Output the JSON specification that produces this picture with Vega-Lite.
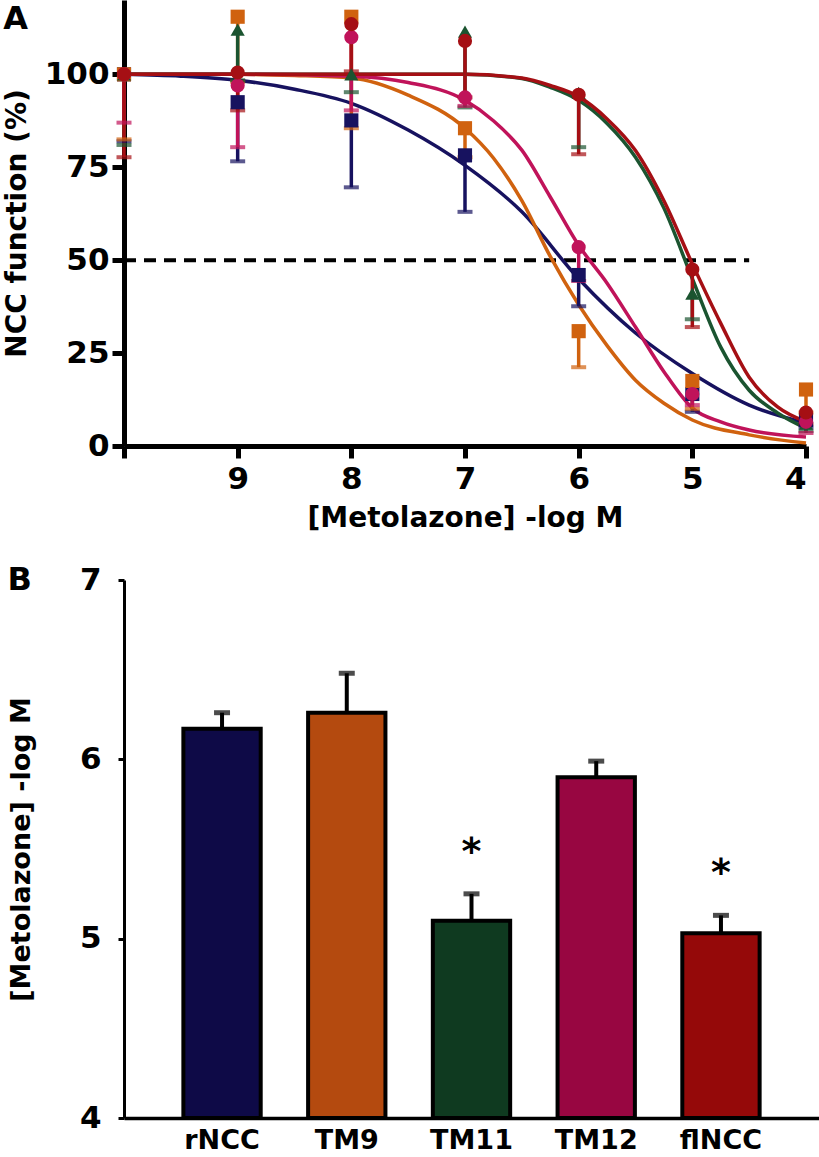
{
  "$schema": "https://vega.github.io/schema/vega-lite/v6.json",
  "padding": {"left": 3, "top": 0, "right": 0, "bottom": 0},
  "background": "white",
  "spacing": 32,
  "resolve": {"scale": {"color": "independent", "shape": "independent"}},
  "config": {
    "font": "DejaVu Sans",
    "view": {"stroke": null},
    "axis": {"labelFont": "DejaVu Sans", "titleFont": "DejaVu Sans", "labelFontWeight": "bold", "titleFontWeight": "bold", "labelColor": "black", "titleColor": "black", "domainColor": "black", "tickColor": "black", "grid": false},
    "title": {"font": "DejaVu Sans", "fontWeight": "bold", "fontSize": 32, "color": "black"}
  },
  "datasets": {
    "curves": [
      {"s": "rNCC", "x": 10, "y": 100}, {"s": "rNCC", "x": 9.5, "y": 99.5}, {"s": "rNCC", "x": 9, "y": 98.4}, {"s": "rNCC", "x": 8.5, "y": 96}, {"s": "rNCC", "x": 8, "y": 92.2}, {"s": "rNCC", "x": 7.5, "y": 85}, {"s": "rNCC", "x": 7, "y": 75.5}, {"s": "rNCC", "x": 6.5, "y": 63}, {"s": "rNCC", "x": 6, "y": 45}, {"s": "rNCC", "x": 5.5, "y": 30.4}, {"s": "rNCC", "x": 5, "y": 19.5}, {"s": "rNCC", "x": 4.5, "y": 11}, {"s": "rNCC", "x": 4, "y": 6.2},
      {"s": "TM9", "x": 10, "y": 100}, {"s": "TM9", "x": 9, "y": 100}, {"s": "TM9", "x": 8.5, "y": 99.7}, {"s": "TM9", "x": 8, "y": 99}, {"s": "TM9", "x": 7.5, "y": 94.4}, {"s": "TM9", "x": 7, "y": 85.5}, {"s": "TM9", "x": 6.75, "y": 77.5}, {"s": "TM9", "x": 6.5, "y": 66}, {"s": "TM9", "x": 6.25, "y": 51}, {"s": "TM9", "x": 6, "y": 38}, {"s": "TM9", "x": 5.75, "y": 27}, {"s": "TM9", "x": 5.5, "y": 17.7}, {"s": "TM9", "x": 5.25, "y": 11.5}, {"s": "TM9", "x": 5, "y": 7}, {"s": "TM9", "x": 4.5, "y": 3}, {"s": "TM9", "x": 4, "y": 0.8},
      {"s": "TM12", "x": 10, "y": 100}, {"s": "TM12", "x": 9, "y": 100}, {"s": "TM12", "x": 8, "y": 99.5}, {"s": "TM12", "x": 7.5, "y": 97.8}, {"s": "TM12", "x": 7, "y": 93}, {"s": "TM12", "x": 6.75, "y": 87.5}, {"s": "TM12", "x": 6.5, "y": 79.6}, {"s": "TM12", "x": 6.25, "y": 67}, {"s": "TM12", "x": 6, "y": 54}, {"s": "TM12", "x": 5.75, "y": 43.8}, {"s": "TM12", "x": 5.5, "y": 32}, {"s": "TM12", "x": 5.25, "y": 20}, {"s": "TM12", "x": 5, "y": 10.2}, {"s": "TM12", "x": 4.75, "y": 6.5}, {"s": "TM12", "x": 4.5, "y": 4.3}, {"s": "TM12", "x": 4, "y": 2.4},
      {"s": "TM11", "x": 10, "y": 100}, {"s": "TM11", "x": 7, "y": 100}, {"s": "TM11", "x": 6.5, "y": 98.9}, {"s": "TM11", "x": 6.25, "y": 96.5}, {"s": "TM11", "x": 6, "y": 93}, {"s": "TM11", "x": 5.75, "y": 86.8}, {"s": "TM11", "x": 5.5, "y": 77.7}, {"s": "TM11", "x": 5.25, "y": 64}, {"s": "TM11", "x": 5, "y": 45}, {"s": "TM11", "x": 4.75, "y": 26.6}, {"s": "TM11", "x": 4.5, "y": 15}, {"s": "TM11", "x": 4.25, "y": 8.9}, {"s": "TM11", "x": 4, "y": 4.8},
      {"s": "flNCC", "x": 10, "y": 100}, {"s": "flNCC", "x": 7, "y": 100}, {"s": "flNCC", "x": 6.5, "y": 99}, {"s": "flNCC", "x": 6.25, "y": 97}, {"s": "flNCC", "x": 6, "y": 94}, {"s": "flNCC", "x": 5.75, "y": 88}, {"s": "flNCC", "x": 5.5, "y": 79.5}, {"s": "flNCC", "x": 5.25, "y": 66}, {"s": "flNCC", "x": 5, "y": 49}, {"s": "flNCC", "x": 4.75, "y": 33}, {"s": "flNCC", "x": 4.5, "y": 18.5}, {"s": "flNCC", "x": 4.25, "y": 10.5}, {"s": "flNCC", "x": 4, "y": 6.5}
    ],
    "pts": [
      {"s": "rNCC", "x": 10, "y": 100, "lo": 82}, {"s": "rNCC", "x": 9, "y": 92.5, "lo": 76.6}, {"s": "rNCC", "x": 8, "y": 87.6, "lo": 69.6}, {"s": "rNCC", "x": 7, "y": 78.2, "lo": 63}, {"s": "rNCC", "x": 6, "y": 46, "lo": 37.6}, {"s": "rNCC", "x": 5, "y": 14, "lo": 9.2}, {"s": "rNCC", "x": 4, "y": 7, "lo": 5},
      {"s": "TM9", "x": 10, "y": 100, "lo": 82.5}, {"s": "TM9", "x": 9, "y": 115.5, "lo": 98}, {"s": "TM9", "x": 8, "y": 115.5, "lo": 85.5}, {"s": "TM9", "x": 7, "y": 85.5, "lo": 77.7}, {"s": "TM9", "x": 6, "y": 30.9, "lo": 21.2}, {"s": "TM9", "x": 5, "y": 17.5, "lo": 10}, {"s": "TM9", "x": 4, "y": 15.2, "lo": 9},
      {"s": "TM11", "x": 10, "y": 100, "lo": 81}, {"s": "TM11", "x": 9, "y": 112, "lo": 98.4}, {"s": "TM11", "x": 8, "y": 100, "lo": 95.2}, {"s": "TM11", "x": 7, "y": 111.5, "lo": 91.1}, {"s": "TM11", "x": 6, "y": 95, "lo": 80.4}, {"s": "TM11", "x": 5, "y": 41, "lo": 34.1}, {"s": "TM11", "x": 4, "y": 6, "lo": 4},
      {"s": "TM12", "x": 10, "y": 100, "lo": 87}, {"s": "TM12", "x": 9, "y": 97, "lo": 80.4}, {"s": "TM12", "x": 8, "y": 110, "lo": 90.3}, {"s": "TM12", "x": 7, "y": 93.8, "lo": 91.5}, {"s": "TM12", "x": 6, "y": 53.5, "lo": 44.4}, {"s": "TM12", "x": 5, "y": 14, "lo": 11}, {"s": "TM12", "x": 4, "y": 6.5, "lo": 3.5},
      {"s": "flNCC", "x": 10, "y": 100, "lo": 77.7}, {"s": "flNCC", "x": 9, "y": 100.5, "lo": 90.3}, {"s": "flNCC", "x": 8, "y": 113.5, "lo": 100.8}, {"s": "flNCC", "x": 7, "y": 109, "lo": 93.8}, {"s": "flNCC", "x": 6, "y": 94.5, "lo": 78.5}, {"s": "flNCC", "x": 5, "y": 47.5, "lo": 32}, {"s": "flNCC", "x": 4, "y": 9, "lo": 6}
    ],
    "ref": [{"x": 10, "x2": 4.5, "y": 50}],
    "bars": [
      {"g": "rNCC", "v": 6.17, "err": 6.26},
      {"g": "TM9", "v": 6.26, "err": 6.48},
      {"g": "TM11", "v": 5.10, "err": 5.25},
      {"g": "TM12", "v": 5.90, "err": 5.99},
      {"g": "flNCC", "v": 5.03, "err": 5.13}
    ],
    "stars": [
      {"g": "TM11", "star": 5.48, "t": "*"},
      {"g": "flNCC", "star": 5.36, "t": "*"}
    ]
  },
  "vconcat": [
    {
      "width": 682,
      "height": 446,
      "title": {"text": "A", "anchor": "start", "frame": "bounds", "offset": -36},
      "encoding": {
        "x": {"field": "x", "type": "quantitative",
          "scale": {"domain": [4, 10], "reverse": true, "nice": false, "zero": false},
          "axis": {"values": [4, 5, 6, 7, 8, 9, 10], "labelExpr": "datum.value == 10 ? '' : datum.label", "tickSize": 12, "tickWidth": 5, "domainWidth": 5, "labelFontSize": 31, "labelPadding": 6, "title": "[Metolazone] -log M", "titleFontSize": 28, "titlePadding": 10}},
        "y": {"field": "y", "type": "quantitative",
          "scale": {"domain": [0, 120], "nice": false, "zero": false},
          "axis": {"values": [0, 25, 50, 75, 100], "tickSize": 12, "tickWidth": 5, "domainWidth": 5, "labelFontSize": 31, "labelPadding": 3, "title": "NCC function (%)", "titleFontSize": 28, "titlePadding": 13}}
      },
      "layer": [
        {
          "data": {"name": "ref"},
          "mark": {"type": "rule", "strokeDash": [12, 8], "strokeWidth": 4, "color": "black"},
          "encoding": {"x2": {"field": "x2"}}
        },
        {
          "data": {"name": "curves"},
          "mark": {"type": "line", "strokeWidth": 3.5, "interpolate": "monotone"},
          "encoding": {
            "color": {"field": "s", "type": "nominal", "legend": null,
              "scale": {"domain": ["rNCC", "TM9", "TM11", "TM12", "flNCC"], "range": ["#17125f", "#d0620f", "#1b5430", "#c0135a", "#a50f14"]}}
          }
        },
        {
          "data": {"name": "pts"},
          "mark": {"type": "rule", "strokeWidth": 3.5},
          "encoding": {
            "y2": {"field": "lo"},
            "color": {"field": "s", "type": "nominal", "legend": null}
          }
        },
        {
          "data": {"name": "pts"},
          "mark": {"type": "tick", "orient": "horizontal", "size": 15, "thickness": 4},
          "encoding": {
            "y": {"field": "lo", "type": "quantitative", "axis": {"title": "NCC function (%)"}},
            "color": {"field": "s", "type": "nominal", "legend": null}
          }
        },
        {
          "data": {"name": "pts"},
          "mark": {"type": "point", "filled": true, "size": 200, "opacity": 1},
          "encoding": {
            "color": {"field": "s", "type": "nominal", "legend": null},
            "shape": {"field": "s", "type": "nominal", "legend": null,
              "scale": {"domain": ["rNCC", "TM9", "TM11", "TM12", "flNCC"], "range": ["square", "square", "triangle-up", "circle", "circle"]}}
          }
        }
      ]
    },
    {
      "width": 695,
      "height": 538,
      "title": {"text": "B", "anchor": "start", "frame": "bounds", "offset": -33},
      "encoding": {
        "x": {"field": "g", "type": "nominal", "sort": ["rNCC", "TM9", "TM11", "TM12", "flNCC"],
          "scale": {"paddingInner": 0.38, "paddingOuter": 0.476},
          "axis": {"ticks": false, "domainWidth": 3.5, "labelFontSize": 27, "labelPadding": 9, "labelAngle": 0, "title": null}},
        "y": {"field": "v", "type": "quantitative",
          "scale": {"domain": [4, 7], "nice": false, "zero": false},
          "axis": {"values": [4, 5, 6, 7], "format": "d", "tickSize": 6, "tickWidth": 3, "domainWidth": 3, "labelFontSize": 31, "labelPadding": 17, "title": "[Metolazone] -log M", "titleFontSize": 27, "titlePadding": 44}}
      },
      "layer": [
        {
          "data": {"name": "bars"},
          "mark": {"type": "rule", "strokeWidth": 4, "color": "black"},
          "encoding": {"y2": {"field": "err"}}
        },
        {
          "data": {"name": "bars"},
          "mark": {"type": "tick", "orient": "horizontal", "size": 16, "thickness": 5, "color": "black"},
          "encoding": {"y": {"field": "err", "type": "quantitative", "axis": {"title": "[Metolazone] -log M"}}}
        },
        {
          "data": {"name": "bars"},
          "mark": {"type": "bar", "stroke": "black", "strokeWidth": 4},
          "encoding": {
            "y2": {"datum": 4},
            "color": {"field": "g", "type": "nominal", "legend": null,
              "scale": {"domain": ["rNCC", "TM9", "TM11", "TM12", "flNCC"], "range": ["#0e0a47", "#b44a0f", "#0f3a20", "#980641", "#950909"]}}
          }
        },
        {
          "data": {"name": "stars"},
          "mark": {"type": "text", "fontSize": 38, "fontWeight": "bold", "color": "black", "baseline": "middle"},
          "encoding": {
            "y": {"field": "star", "type": "quantitative", "axis": {"title": "[Metolazone] -log M"}},
            "text": {"field": "t"}
          }
        }
      ]
    }
  ]
}
